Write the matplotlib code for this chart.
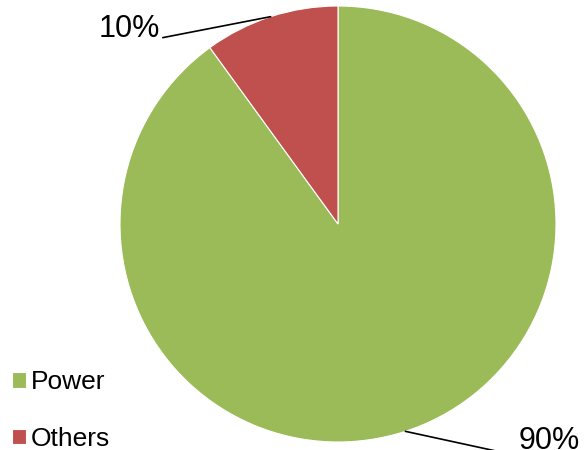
import numpy as np
import matplotlib
matplotlib.use("Agg")
import matplotlib.pyplot as plt

plt.rcParams['font.family'] = ['Liberation Sans', 'DejaVu Sans']

labels = ['Power', 'Others']
values = [90, 10]
colours = ['#9BBB59', '#C0504D']

W, H = 584, 450
fig = plt.figure(figsize=(W / 100, H / 100), dpi=100)
ax = fig.add_axes([0, 0, 1, 1])

cx, cy, r = 338, H - 224, 218
wedges, _ = ax.pie(
    values,
    colors=colours,
    startangle=90,
    counterclock=False,
    center=(cx, cy),
    radius=r,
    wedgeprops=dict(edgecolor='white', linewidth=0.8),
)
ax.set_xlim(0, W)
ax.set_ylim(0, H)
ax.set_aspect('equal')
ax.axis('off')

# percentage labels with leader lines from the middle of each wedge
total = sum(values)
pcts = [f"{v / total * 100:.0f}%" for v in values]
label_pos = {
    'Power': dict(xytext=(519, H - 449), ha='left', relpos=(0, 0),
                  conn="arc3,rad=0"),
    'Others': dict(xytext=(160, H - 37), ha='right', relpos=(1, 0.08),
                   conn="angle,angleA=0,angleB=11,rad=0"),
}
for w, name, pct in zip(wedges, labels, pcts):
    mid = np.deg2rad((w.theta1 + w.theta2) / 2)
    edge = (cx + r * np.cos(mid), cy + r * np.sin(mid))
    p = label_pos[name]
    ax.annotate(
        pct, xy=edge, xytext=p['xytext'], ha=p['ha'], va='baseline',
        fontsize=22, color='black', annotation_clip=False,
        arrowprops=dict(arrowstyle='-', color='black', lw=1.2,
                        shrinkA=0, shrinkB=0, relpos=p['relpos'],
                        connectionstyle=p['conn']),
    )

ax.legend(
    wedges, labels,
    loc='lower left',
    bbox_to_anchor=(12 / W, -1 / H),
    bbox_transform=fig.transFigure,
    frameon=False,
    fontsize=19,
    borderpad=0,
    borderaxespad=0,
    handlelength=0.52,
    handleheight=0.52,
    handletextpad=0.2,
    labelspacing=1.24,
)

fig.savefig('out.png', dpi=100)
